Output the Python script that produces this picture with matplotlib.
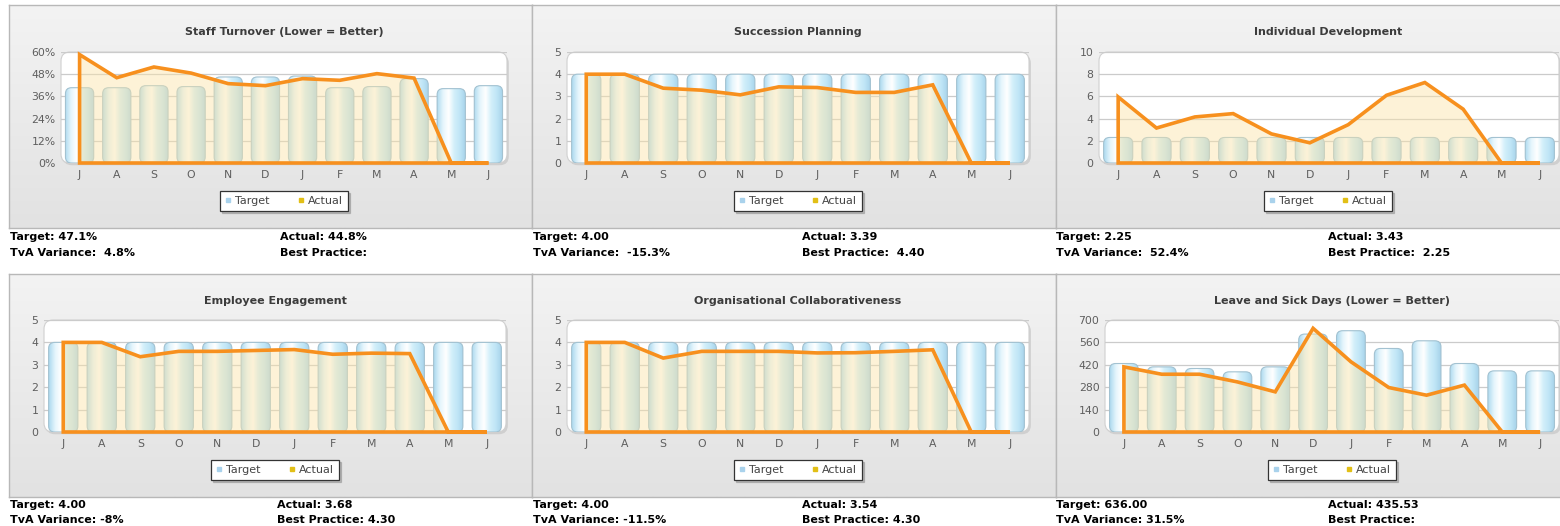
import numpy as np
import matplotlib
matplotlib.use('Agg')
from matplotlib import pyplot as plt
from matplotlib.patches import FancyBboxPatch
from matplotlib.lines import Line2D
from matplotlib.colors import LinearSegmentedColormap

W, H = 1560, 526

months = ['J', 'A', 'S', 'O', 'N', 'D', 'J', 'F', 'M', 'A', 'M', 'J']

titles = ['Staff Turnover (Lower = Better)', 'Succession Planning', 'Individual Development',
          'Employee Engagement', 'Organisational Collaborativeness', 'Leave and Sick Days (Lower = Better)']

turnover_target = [40.7, 40.7, 41.8, 41.3, 46.5, 46.5, 47.0, 40.7, 41.3, 45.6, 40.2, 41.8]
turnover_actual = [58.6, 46.1, 51.9, 48.6, 42.9, 41.8, 45.6, 44.7, 48.3, 45.9, 0, 0]

succession_target = [4, 4, 4, 4, 4, 4, 4, 4, 4, 4, 4, 4]
succession_actual = [4.0, 4.0, 3.37, 3.28, 3.07, 3.43, 3.40, 3.18, 3.18, 3.52, 0, 0]

development_target = [2.3, 2.3, 2.3, 2.3, 2.3, 2.3, 2.3, 2.3, 2.3, 2.3, 2.3, 2.3]
development_actual = [5.95, 3.15, 4.15, 4.45, 2.62, 1.82, 3.45, 6.1, 7.25, 4.85, 0, 0]

engagement_target = [4, 4, 4, 4, 4, 4, 4, 4, 4, 4, 4, 4]
engagement_actual = [4.0, 4.0, 3.36, 3.6, 3.6, 3.64, 3.68, 3.47, 3.52, 3.5, 0, 0]

collab_target = [4, 4, 4, 4, 4, 4, 4, 4, 4, 4, 4, 4]
collab_actual = [4.0, 4.0, 3.3, 3.6, 3.6, 3.6, 3.53, 3.54, 3.6, 3.67, 0, 0]

leave_target = [428, 407, 397, 376, 407, 612, 633, 522, 570, 428, 382, 382]
leave_actual = [407, 361, 361, 313, 251, 648, 439, 278, 230, 293, 0, 0]

y_max = [60, 5, 10, 5, 5, 700]
y_step = [12, 1, 2, 1, 1, 140]
y_suffix = ['%', '', '', '', '', '']

stats_left = [('Target: 47.1%', 'TvA Variance:  4.8%'),
              ('Target: 4.00', 'TvA Variance:  -15.3%'),
              ('Target: 2.25', 'TvA Variance:  52.4%'),
              ('Target: 4.00', 'TvA Variance: -8%'),
              ('Target: 4.00', 'TvA Variance: -11.5%'),
              ('Target: 636.00', 'TvA Variance: 31.5%')]
stats_right = [('Actual: 44.8%', 'Best Practice:'),
               ('Actual: 3.39', 'Best Practice:  4.40'),
               ('Actual: 3.43', 'Best Practice:  2.25'),
               ('Actual: 3.68', 'Best Practice: 4.30'),
               ('Actual: 3.54', 'Best Practice: 4.30'),
               ('Actual: 435.53', 'Best Practice:')]

targets = [turnover_target, succession_target, development_target,
           engagement_target, collab_target, leave_target]
actuals = [turnover_actual, succession_actual, development_actual,
           engagement_actual, collab_actual, leave_actual]

# layout in pixels (x0, x1) and (y0, y1), y from top
panel_cols = [(9, 532), (532, 1056), (1056, 1562)]
panel_rows = [(5, 228), (274, 497)]
plot_x = [(61, 507), (567, 1029), (1099, 1559), (44, 506), (567, 1029), (1105, 1559)]
plot_y = [(52, 163), (320, 432)]
center_x = [284, 798, 1328, 275, 798, 1332]
title_y = [32, 301]
legend_y = [201, 470]
stats_y = [(237, 253), (505, 520)]
stats_x = [(10, 280), (533, 802), (1056, 1328), (10, 277), (533, 802), (1056, 1328)]


def rect(x0, x1, y0, y1):
    return [x0 / W, 1 - y1 / H, (x1 - x0) / W, (y1 - y0) / H]


fig = plt.figure(figsize=(W / 100, H / 100), dpi=100)
fig.patch.set_facecolor('white')

panel_grad = LinearSegmentedColormap.from_list('pg', ['#f3f3f3', '#e2e2e2'])
bar_grad = LinearSegmentedColormap.from_list(
    'bg', ['#b0dbf0', '#e4f5fc', '#ffffff', '#d2effa', '#bfe5f6', '#a6d2ea'])

# panel backgrounds
for r, (py0, py1) in enumerate(panel_rows):
    for c, (px0, px1) in enumerate(panel_cols):
        bg = fig.add_axes(rect(px0, px1, py0, py1))
        bg.imshow(np.linspace(0, 1, 100).reshape(-1, 1), aspect='auto', cmap=panel_grad,
                  extent=[0, 1, 0, 1], origin='upper')
        bg.set_xticks([])
        bg.set_yticks([])
        for s in bg.spines.values():
            s.set_color('#b8b8b8')
            s.set_linewidth(1)

for i in range(6):
    row = i // 3
    x0, x1 = plot_x[i]
    y0, y1 = plot_y[row]
    wpx, hpx = x1 - x0, y1 - y0
    ax = fig.add_axes(rect(x0, x1, y0, y1))
    ax.patch.set_visible(False)
    for s in ax.spines.values():
        s.set_visible(False)

    # white rounded plot area with a soft shadow
    sh = FancyBboxPatch((0.004, -0.02), 1, 1, boxstyle='round,pad=0,rounding_size=%f' % (9 / wpx),
                        mutation_aspect=wpx / hpx, transform=ax.transAxes, facecolor='#cfcfcf',
                        edgecolor='none', zorder=0, clip_on=False)
    ax.add_patch(sh)
    pa = FancyBboxPatch((0, 0), 1, 1, boxstyle='round,pad=0,rounding_size=%f' % (9 / wpx),
                        mutation_aspect=wpx / hpx, transform=ax.transAxes, facecolor='white',
                        edgecolor='#d0d0d0', linewidth=0.8, zorder=0.1, clip_on=False)
    ax.add_patch(pa)

    ym = y_max[i]
    ax.set_xlim(-0.5, 11.5)
    ax.set_ylim(0, ym)
    ticks = np.arange(0, ym + y_step[i] / 2, y_step[i])
    ax.set_yticks(ticks)
    ax.set_yticklabels(['%d%s' % (t, y_suffix[i]) for t in ticks])
    ax.set_xticks(range(12))
    ax.set_xticklabels(months)
    ax.tick_params(length=0, labelsize=7.8, colors='#5e5e5e', pad=4)
    ax.tick_params(axis='x', pad=5)
    for t in ticks[1:]:
        ax.axhline(t, color='#cbcbcb', lw=0.9, zorder=0.5)

    # target bars: glassy rounded columns
    x = np.arange(12)
    bars = ax.bar(x, targets[i], width=0.76, color='none', edgecolor='none')
    asp = (ym / hpx) / (12 / wpx)
    rr = 6 * 12 / wpx
    for b in bars:
        bx, bw, bh = b.get_x(), b.get_width(), b.get_height()
        fb = FancyBboxPatch((bx, 0), bw, bh, boxstyle='round,pad=0,rounding_size=%f' % rr,
                            mutation_aspect=asp, facecolor='#cdeaf7', edgecolor='none',
                            zorder=1)
        ax.add_patch(fb)
        im = ax.imshow(np.linspace(0, 1, 60).reshape(1, -1), aspect='auto', cmap=bar_grad,
                       extent=[bx, bx + bw, 0, bh], zorder=1.1, interpolation='bilinear')
        im.set_clip_path(fb)
        edge = FancyBboxPatch((bx, 0), bw, bh, boxstyle='round,pad=0,rounding_size=%f' % rr,
                              mutation_aspect=asp, facecolor='none', edgecolor='#a3c2d1',
                              linewidth=0.8, zorder=1.2)
        ax.add_patch(edge)
    ax.set_xlim(-0.5, 11.5)
    ax.set_ylim(0, ym)

    # actual: area series with orange outline
    act = np.array(actuals[i], dtype=float)
    ax.fill(np.r_[x, x[::-1]], np.r_[act, np.zeros(12)], facecolor='#fbe4a8', alpha=0.45,
            edgecolor='none', zorder=2)
    ax.fill(np.r_[x, x[::-1]], np.r_[act, np.zeros(12)], facecolor='none',
            edgecolor='#f7901e', linewidth=2.6, zorder=3, clip_on=False)

    cx = center_x[i]
    fig.text(cx / W, 1 - title_y[row] / H, titles[i], ha='center', va='center',
             fontsize=8, fontweight='bold', color='#3c3c3c')

    handles = [Line2D([], [], ls='none', marker='s', ms=3, color='#a9d2ec'),
               Line2D([], [], ls='none', marker='s', ms=3, color='#e2bf16')]
    leg = fig.legend(handles, ['Target', 'Actual'], loc='center', ncol=2,
                     bbox_to_anchor=(cx / W, 1 - legend_y[row] / H), fontsize=8,
                     frameon=True, fancybox=False,
                     shadow={'ox': 1.5, 'oy': -1.5, 'color': '#8c8c8c'},
                     handlelength=0.5, handletextpad=0.4, columnspacing=2.6, borderpad=0.45)
    leg.get_frame().set_edgecolor('#333333')
    leg.get_frame().set_linewidth(0.9)
    for t in leg.get_texts():
        t.set_color('#444444')

    sy0, sy1 = stats_y[row]
    sxl, sxr = stats_x[i]
    fig.text(sxl / W, 1 - sy0 / H, stats_left[i][0], ha='left', va='center',
             fontsize=8, fontweight='bold', color='black')
    fig.text(sxl / W, 1 - sy1 / H, stats_left[i][1], ha='left', va='center',
             fontsize=8, fontweight='bold', color='black')
    fig.text(sxr / W, 1 - sy0 / H, stats_right[i][0], ha='left', va='center',
             fontsize=8, fontweight='bold', color='black')
    fig.text(sxr / W, 1 - sy1 / H, stats_right[i][1], ha='left', va='center',
             fontsize=8, fontweight='bold', color='black')

fig.savefig('out.png', dpi=100)
